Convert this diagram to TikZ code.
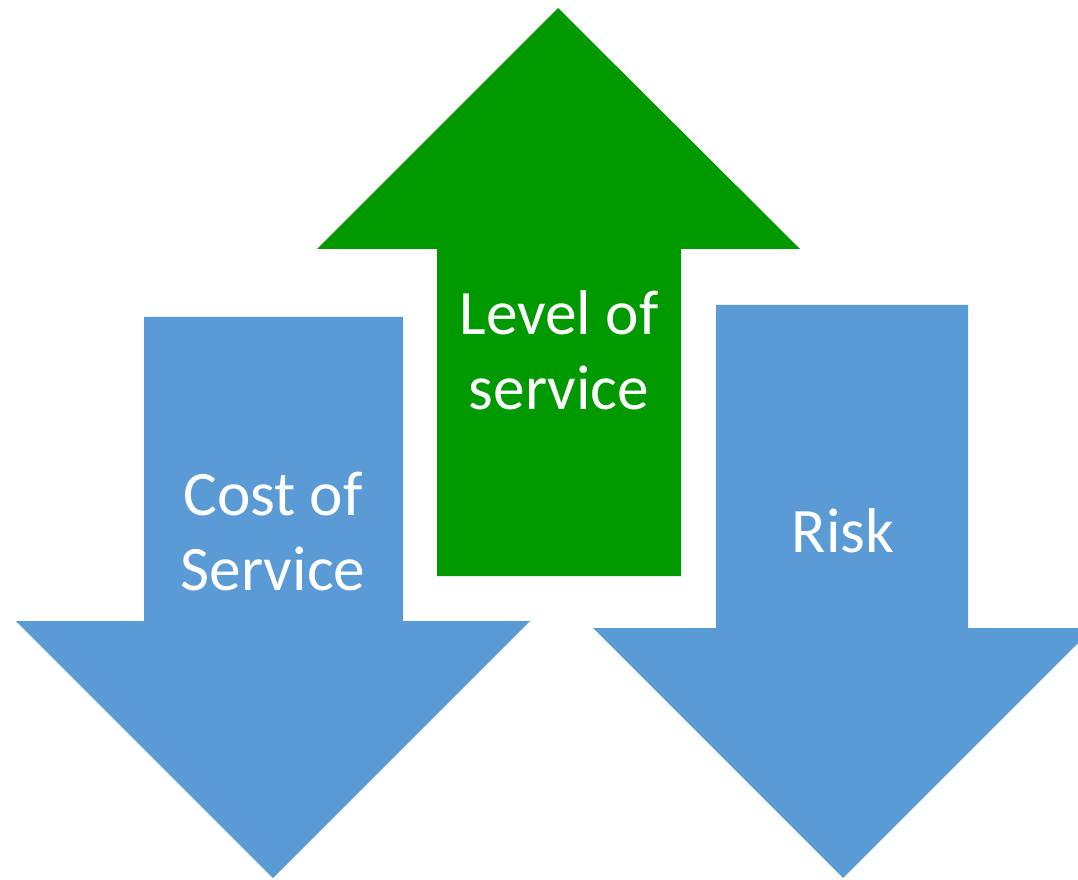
\documentclass[tikz,border=0pt]{standalone}
\usepackage{fontspec}
\setmainfont{Carlito}
\definecolor{costblue}{HTML}{5B9BD5}
\definecolor{lvlgreen}{HTML}{009900}
\begin{document}
\begin{tikzpicture}[x=0.75pt,y=-0.75pt,
  label/.style={text=white,font=\fontsize{47.5}{56.25}\selectfont,align=center,anchor=base,inner sep=0pt}]
\useasboundingbox (0,0) rectangle (1078,880);
\clip (0,0) rectangle (1078,880);
% down arrow: cost of service
\fill[costblue] (144,317) -- (403,317) -- (403,621) -- (530,621) -- (273,878)
  -- (16,621) -- (144,621) -- cycle;
% up arrow: level of service
\fill[lvlgreen] (437,576) -- (681,576) -- (681,249) -- (800,249) -- (558,8)
  -- (317,249) -- (437,249) -- cycle;
% down arrow: risk
\fill[costblue] (716,305) -- (968,305) -- (968,628) -- (1093,628) -- (843,878)
  -- (593,628) -- (716,628) -- cycle;
% labels (anchored at the baseline of the last line)
\node[label] (cost) at (273,590) {Cost of\\Service};
\node[label] (level) at (559,410) {Level of\\service};
\node[label] (risk) at (843,552) {Risk};
\end{tikzpicture}
\end{document}
